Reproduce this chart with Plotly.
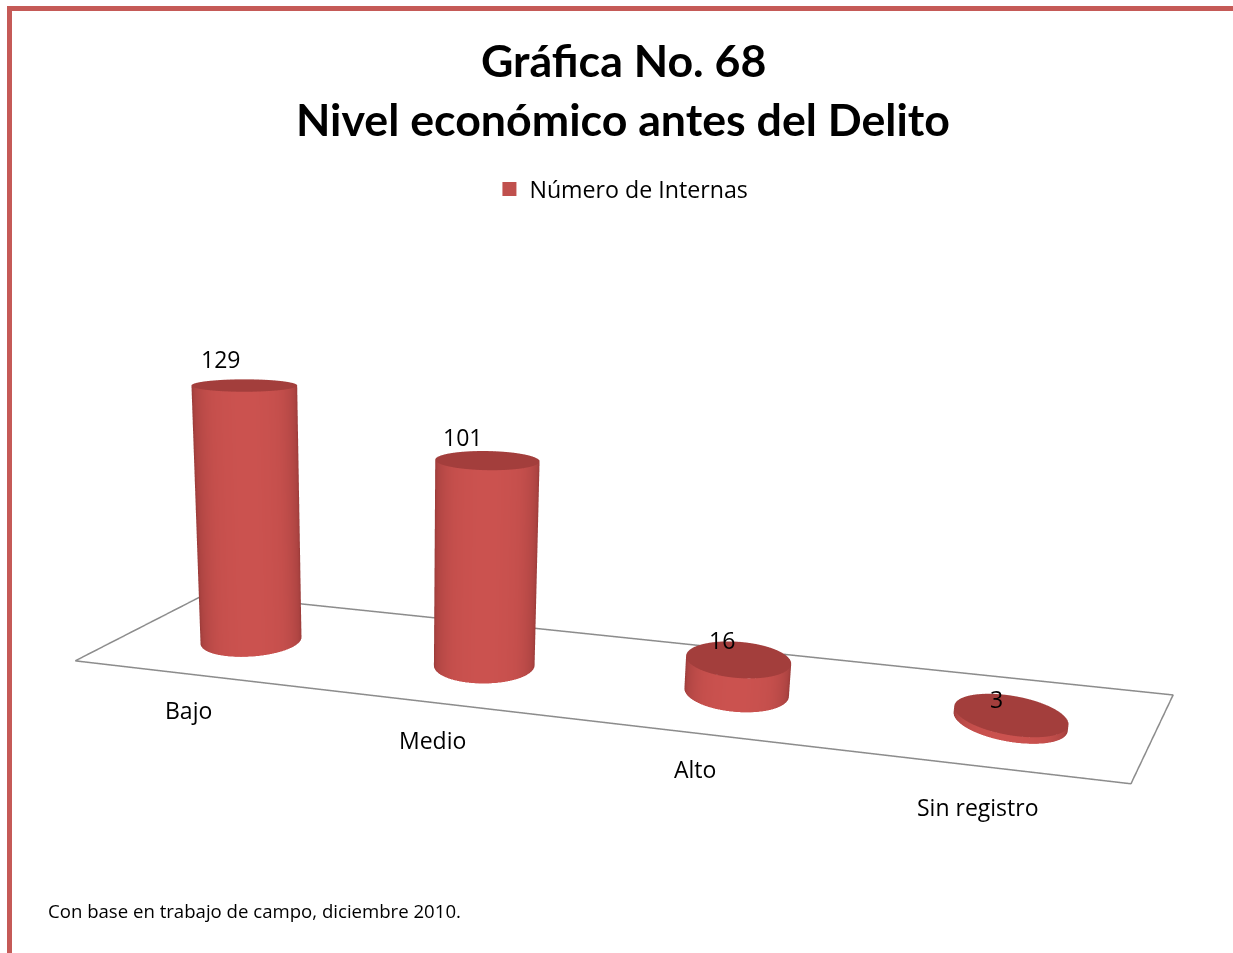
import numpy as np
import plotly.graph_objects as go

# ---- chart content -------------------------------------------------------
categories = ["Bajo", "Medio", "Alto", "Sin registro"]
values = [129, 101, 16, 3]
series_name = "Número de Internas"
title_lines = ["Gráfica No. 68", "Nivel económico antes del Delito"]
source_note = "Con base en trabajo de campo, diciembre 2010."

# ---- placement in the 3-D scene's data units (style, not data) ------------
bar_x = [0.5, 1.5, 2.5, 3.5]
bar_depth = [0.4967, 0.4749, 0.4531, 0.4313]
bar_rx, bar_ry = 0.199, 0.0498
floor_x = [-0.054, 3.781, 4.216, 0.042, -0.054]
floor_y = [0.406, 0.316, 0.530, 0.635, 0.406]
cat_label_x = [0.585, 1.482, 2.368, 3.243]
cat_label_y = [0.314, 0.293, 0.279, 0.252]
val_label_x = [0.404, 1.402, 2.434, 3.446]
val_label_z = [141.2, 111.4, 24.7, 9.8]

W, H = 1233, 953
K = 0.8
eye = np.array([0.1039, -1.0940, 0.2584]) * K
cen = np.array([-0.0082, 0.0575, 0.0281]) * K
up = [-0.0210, -0.1564, 1.0]
ASPECT = dict(x=1, y=K, z=0.3080 * K)
X_RANGE, Y_RANGE, Z_RANGE = [-0.5, 4.5], [0, 1], [0, 150]

BLACK = "#000000"
FRAME = "#c55a57"
flat = dict(ambient=1, diffuse=0, specular=0, roughness=1, fresnel=0)
th = np.linspace(0, 2 * np.pi, 97)

fig = go.Figure()
for x0, y0, v in zip(bar_x, bar_depth, values):
    mx = (x0 - 2) / 5
    my = (y0 - 0.5) * K
    view = np.arctan2(eye[1] - my, eye[0] - mx)
    X = x0 + bar_rx * np.cos(th)[None, :] * np.ones((2, 1))
    Y = y0 + bar_ry * np.sin(th)[None, :] * np.ones((2, 1))
    Z = np.array([0, v], float)[:, None] * np.ones((1, 97))
    C = np.clip(np.cos(th - view), 0, 1)[None, :] * np.ones((2, 1))
    fig.add_trace(go.Surface(x=X, y=Y, z=Z, surfacecolor=C, cmin=0, cmax=1, showscale=False,
                             colorscale=[[0, "#8f3533"], [.35, "#ad4442"], [.8, "#c54f4c"], [1, "#cb524f"]],
                             lighting=flat, hoverinfo="skip"))
    rr = np.array([0, 1.0])[:, None]
    fig.add_trace(go.Surface(x=x0 + bar_rx * rr * np.cos(th), y=y0 + bar_ry * rr * np.sin(th),
                             z=v * np.ones((2, 97)), surfacecolor=np.zeros((2, 97)), cmin=0, cmax=1,
                             showscale=False, colorscale=[[0, "#a33e3c"], [1, "#a33e3c"]],
                             lighting=flat, hoverinfo="skip"))

fig.add_trace(go.Scatter3d(x=floor_x, y=floor_y, z=[0] * 5, mode="lines",
                           line=dict(color="#8c8c8c", width=3), hoverinfo="skip", showlegend=False))
fig.add_trace(go.Scatter(x=[None], y=[None], mode="markers", name=series_name,
                         marker=dict(symbol="square", size=14, color="#c0504d")))

label_font = dict(size=23, color=BLACK, family="Open Sans")
sc_ann = [dict(x=a, y=b, z=0, text=t, showarrow=False, xanchor="center", yanchor="middle", font=label_font)
          for a, b, t in zip(cat_label_x, cat_label_y, categories)]
sc_ann += [dict(x=a, y=b, z=c, text=str(v), showarrow=False, xanchor="center", yanchor="middle", font=label_font)
           for a, b, c, v in zip(val_label_x, bar_depth, val_label_z, values)]

shapes = [dict(type="rect", xref="paper", yref="paper", x0=7 / W, x1=1, y0=1 - 11 / H, y1=1 - 6 / H,
               fillcolor=FRAME, line=dict(width=0)),
          dict(type="rect", xref="paper", yref="paper", x0=7 / W, x1=12 / W, y0=0, y1=1 - 6 / H,
               fillcolor=FRAME, line=dict(width=0))]


def pa(t, u, v, size, bold=False, anchor="center"):
    return dict(text=f"<b>{t}</b>" if bold else t, x=u / W, y=1 - v / H, xref="paper", yref="paper",
                xanchor=anchor, yanchor="middle", showarrow=False,
                font=dict(size=size, color=BLACK, family="Lato" if bold else "Open Sans"))


anns = [pa(title_lines[0], 623, 60, 44.7, True), pa(title_lines[1], 623, 119, 44.7, True),
        pa(source_note, 46, 910, 18.6, False, "left")]

fig.update_layout(
    width=W, height=H, margin=dict(l=0, r=0, t=0, b=0), paper_bgcolor="white", plot_bgcolor="white",
    xaxis=dict(visible=False), yaxis=dict(visible=False), shapes=shapes, annotations=anns,
    font=dict(family="Open Sans", color=BLACK),
    legend=dict(orientation="h", x=.504, xanchor="center", y=1 - 189.5 / H, yanchor="middle",
                font=dict(size=23.2), bgcolor="rgba(0,0,0,0)"),
    scene=dict(domain=dict(x=[0, 1], y=[0, 1]),
               xaxis=dict(visible=False, range=X_RANGE), yaxis=dict(visible=False, range=Y_RANGE),
               zaxis=dict(visible=False, range=Z_RANGE), aspectmode="manual", aspectratio=ASPECT,
               annotations=sc_ann,
               camera=dict(eye=dict(x=eye[0], y=eye[1], z=eye[2]), center=dict(x=cen[0], y=cen[1], z=cen[2]),
                           up=dict(x=up[0], y=up[1], z=up[2]))))
fig.write_html("out.html", post_script="document.body.style.margin='0';document.body.style.overflow='hidden';",
               config=dict(displayModeBar=False))
